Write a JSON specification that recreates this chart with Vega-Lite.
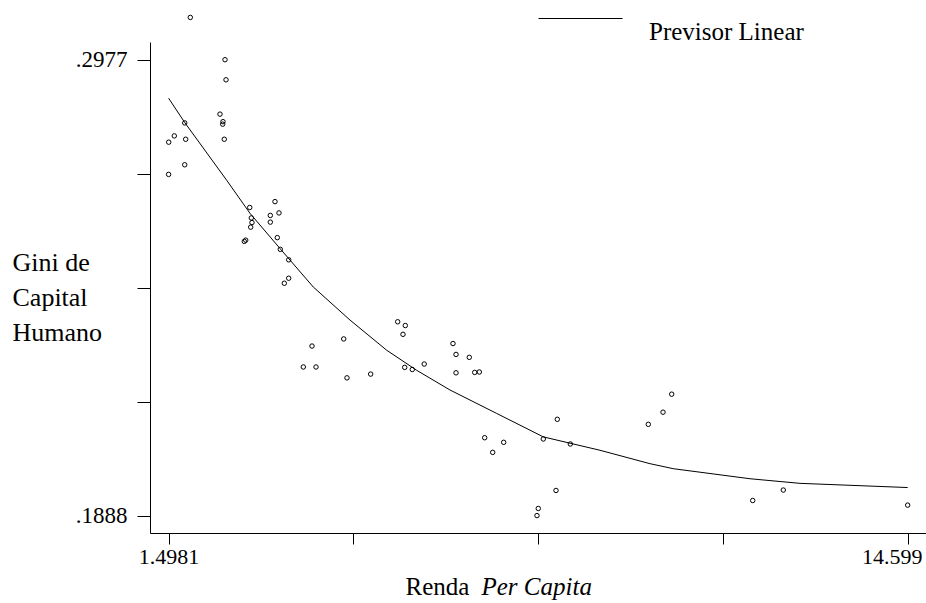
{
  "$schema": "https://vega.github.io/schema/vega-lite/v6.json",
  "width": 776,
  "height": 491,
  "autosize": "none",
  "padding": {"left": 150, "top": 42, "right": 0, "bottom": 70},
  "background": "white",
  "config": {
    "view": {"stroke": null},
    "font": "'Liberation Serif', 'Times New Roman', Times, serif",
    "axis": {"grid": false, "domainColor": "black", "tickColor": "black", "labelColor": "black", "titleColor": "black", "labelFont": "'Liberation Serif', 'Times New Roman', Times, serif", "titleFont": "'Liberation Serif', 'Times New Roman', Times, serif", "titleFontWeight": "normal", "domainWidth": 1, "tickWidth": 1},
    "legend": {"labelFont": "'Liberation Serif', 'Times New Roman', Times, serif"}
  },
  "datasets": {
    "obs": [
      {"renda": 1.883, "gini": 0.3078},
      {"renda": 2.498, "gini": 0.2977},
      {"renda": 2.516, "gini": 0.2929},
      {"renda": 2.409, "gini": 0.2847},
      {"renda": 2.462, "gini": 0.2829},
      {"renda": 2.457, "gini": 0.2823},
      {"renda": 2.485, "gini": 0.2787},
      {"renda": 1.784, "gini": 0.2826},
      {"renda": 1.599, "gini": 0.2795},
      {"renda": 1.500, "gini": 0.2780},
      {"renda": 1.801, "gini": 0.2787},
      {"renda": 1.784, "gini": 0.2726},
      {"renda": 1.4981, "gini": 0.2703},
      {"renda": 2.936, "gini": 0.2624},
      {"renda": 3.384, "gini": 0.2638},
      {"renda": 3.301, "gini": 0.2605},
      {"renda": 3.455, "gini": 0.2611},
      {"renda": 2.964, "gini": 0.2599},
      {"renda": 2.976, "gini": 0.2588},
      {"renda": 3.301, "gini": 0.2589},
      {"renda": 2.953, "gini": 0.2577},
      {"renda": 2.865, "gini": 0.2546},
      {"renda": 2.840, "gini": 0.2543},
      {"renda": 3.425, "gini": 0.2552},
      {"renda": 3.478, "gini": 0.2524},
      {"renda": 3.627, "gini": 0.2499},
      {"renda": 3.627, "gini": 0.2455},
      {"renda": 3.549, "gini": 0.2443},
      {"renda": 5.559, "gini": 0.2351},
      {"renda": 5.694, "gini": 0.2342},
      {"renda": 5.653, "gini": 0.2321},
      {"renda": 4.040, "gini": 0.2293},
      {"renda": 4.602, "gini": 0.2310},
      {"renda": 3.886, "gini": 0.2243},
      {"renda": 4.111, "gini": 0.2243},
      {"renda": 4.660, "gini": 0.2217},
      {"renda": 5.080, "gini": 0.2226},
      {"renda": 5.683, "gini": 0.2242},
      {"renda": 5.818, "gini": 0.2237},
      {"renda": 6.029, "gini": 0.2250},
      {"renda": 6.539, "gini": 0.2299},
      {"renda": 6.593, "gini": 0.2273},
      {"renda": 6.828, "gini": 0.2266},
      {"renda": 6.593, "gini": 0.2229},
      {"renda": 6.924, "gini": 0.2230},
      {"renda": 7.006, "gini": 0.2231},
      {"renda": 7.101, "gini": 0.2074},
      {"renda": 7.243, "gini": 0.2039},
      {"renda": 7.438, "gini": 0.2063},
      {"renda": 8.388, "gini": 0.2118},
      {"renda": 8.140, "gini": 0.2071},
      {"renda": 8.619, "gini": 0.2059},
      {"renda": 8.365, "gini": 0.1948},
      {"renda": 8.051, "gini": 0.1905},
      {"renda": 8.028, "gini": 0.1888},
      {"renda": 10.416, "gini": 0.2178},
      {"renda": 10.262, "gini": 0.2135},
      {"renda": 10.001, "gini": 0.2106},
      {"renda": 11.852, "gini": 0.1924},
      {"renda": 12.394, "gini": 0.1949},
      {"renda": 14.599, "gini": 0.1913}
    ],
    "fit": [
      {"renda": 1.4981, "gini": 0.2885},
      {"renda": 1.789, "gini": 0.2826},
      {"renda": 2.528, "gini": 0.2689},
      {"renda": 2.941, "gini": 0.2610},
      {"renda": 3.473, "gini": 0.2526},
      {"renda": 4.063, "gini": 0.2434},
      {"renda": 4.714, "gini": 0.2355},
      {"renda": 5.364, "gini": 0.2283},
      {"renda": 5.896, "gini": 0.2235},
      {"renda": 6.486, "gini": 0.2188},
      {"renda": 7.314, "gini": 0.2132},
      {"renda": 8.140, "gini": 0.2076},
      {"renda": 9.145, "gini": 0.2044},
      {"renda": 10.031, "gini": 0.2012},
      {"renda": 10.444, "gini": 0.2000},
      {"renda": 11.804, "gini": 0.1976},
      {"renda": 12.690, "gini": 0.1965},
      {"renda": 14.599, "gini": 0.1955}
    ]
  },
  "layer": [
    {
      "data": {"name": "obs"},
      "mark": {"type": "point", "shape": "circle", "filled": false, "color": "black", "size": 20, "strokeWidth": 1, "opacity": 1},
      "encoding": {
        "x": {
          "field": "renda", "type": "quantitative",
          "scale": {"domain": [1.1684, 14.9237], "nice": false, "zero": false},
          "axis": {
            "values": [1.4981, 4.7733, 8.0486, 11.3238, 14.599],
            "labelExpr": "datum.value < 2 ? '1.4981' : (datum.value > 14 ? '14.599' : '')",
            "labelOffset": {"condition": {"test": "datum.value > 14", "value": -16}, "value": 0},
            "tickSize": 11, "labelPadding": 2, "labelFontSize": 22, "labelFlush": false, "labelOverlap": false,
            "title": "Renda", "titleFontSize": 25, "titleX": 255, "titleY": 61, "titleAlign": "left", "titleBaseline": "alphabetic"
          }
        },
        "y": {
          "field": "gini", "type": "quantitative",
          "scale": {"domain": [0.18464, 0.30193], "nice": false, "zero": false},
          "axis": {
            "values": [0.1888, 0.216025, 0.24325, 0.270475, 0.2977],
            "labelExpr": "datum.value < 0.19 ? '.1888' : (datum.value > 0.29 ? '.2977' : '')",
            "tickSize": 13, "labelPadding": 10, "labelFontSize": 23, "labelFlush": false, "labelOverlap": false,
            "title": ["Gini de", "Capital", "Humano"], "titleAngle": 0, "titleAlign": "left", "titleBaseline": "alphabetic",
            "titleX": -138, "titleY": 228, "titleFontSize": 26, "titleLineHeight": 35
          }
        }
      }
    },
    {
      "data": {"name": "fit"},
      "mark": {"type": "line", "strokeWidth": 1},
      "encoding": {
        "x": {
          "field": "renda", "type": "quantitative",
          "axis": {"orient": "bottom", "domain": false, "ticks": false, "labels": false, "grid": false,
                   "title": "Per Capita", "titleFontStyle": "italic", "titleFontSize": 25, "titleX": 331, "titleY": 61, "titleAlign": "left", "titleBaseline": "alphabetic"}
        },
        "y": {"field": "gini", "type": "quantitative"},
        "stroke": {
          "datum": "Previsor Linear", "type": "nominal",
          "scale": {"range": ["black"]},
          "legend": {
            "orient": "none", "legendX": 388, "legendY": -66, "title": null, "padding": 0,
            "symbolType": "stroke", "symbolSize": 7056, "symbolStrokeWidth": 1, "symbolStrokeColor": "black",
            "labelFontSize": 25, "labelColor": "black", "labelOffset": 26,
            "labelBaseline": "line-top", "labelLineHeight": 37
          }
        }
      }
    }
  ],
  "resolve": {"axis": {"x": "independent"}}
}
